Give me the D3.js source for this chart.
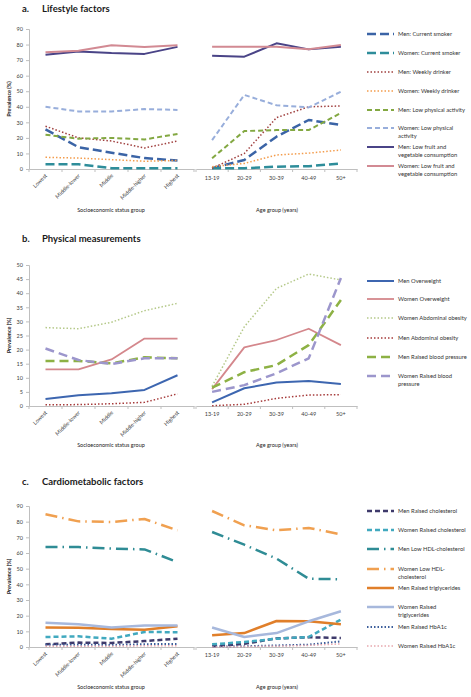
<!DOCTYPE html>
<html><head><meta charset="utf-8">
<script src="https://cdn.jsdelivr.net/npm/d3@7"></script>
<style>
body{margin:0;background:#fff;}
svg{display:block;font-family:Lato,"Liberation Sans",sans-serif;}
</style></head>
<body><svg id="chart" width="471" height="697"></svg>
<script>
// ---- categories / ticks ----
const sesGroups = ["Lowest","Middle-lower","Middle","Middle-higher","Highest"];
const ageGroups = ["13-19","20-29","30-39","40-49","50+"];
const ticksA = [0,10,20,30,40,50,60,70,80,90];
const ticksB = [0,5,10,15,20,25,30,35,40,45,50];
const ticksC = [0,10,20,30,40,50,60,70,80,90];

// ---- a. Lifestyle factors ----
const menCurrentSmokerSES = [25.5,14,10.5,7,5.5];
const menCurrentSmokerAge = [0.5,5.8,20.8,31.5,28.3];
const womenCurrentSmokerSES = [3,3,0.5,0.5,0.5];
const womenCurrentSmokerAge = [0.5,0.5,1.5,1.8,3.6];
const menWeeklyDrinkerSES = [27.5,20,18,13.5,18];
const menWeeklyDrinkerAge = [0.5,10,33,40,40.5];
const womenWeeklyDrinkerSES = [7.5,7,6,5,5.5];
const womenWeeklyDrinkerAge = [1.5,3.6,9,10.2,12.2];
const menLowPhysicalSES = [22,19.5,20,19,22.5];
const menLowPhysicalAge = [6.9,24.4,25,25,36];
const womenLowPhysicalSES = [40,37,37,38.5,38];
const womenLowPhysicalAge = [18.6,47.6,41,39.6,49.7];
const menLowFruitVegSES = [73.5,75.5,74.5,74,78.5];
const menLowFruitVegAge = [72.8,72.2,80.8,76.9,78.6];
const womenLowFruitVegSES = [75,76,79.5,78.5,79.5];
const womenLowFruitVegAge = [78.6,78.6,78.6,77,79.7];

// ---- b. Physical measurements ----
const menOverweightSES = [2.5,3.8,4.5,5.7,10.9];
const menOverweightAge = [1.3,6.3,8.3,8.9,7.8];
const womenOverweightSES = [13,13,16.5,23.9,23.9];
const womenOverweightAge = [6,20.8,23.4,27.4,21.6];
const womenAbdominalSES = [27.8,27.4,29.7,33.8,36.4];
const womenAbdominalAge = [7,28.1,41.7,46.8,44.7];
const menAbdominalSES = [0.4,0.5,0.8,1.3,4.3];
const menAbdominalAge = [0.1,0.6,2.7,3.9,4];
const menRaisedBPSES = [16,16,15.1,17.3,16.9];
const menRaisedBPAge = [6.5,12,14.5,21.6,37.6];
const womenRaisedBPSES = [20.4,16.3,14.9,16.9,16.9];
const womenRaisedBPAge = [5,7.4,11.6,16.9,45.4];

// ---- c. Cardiometabolic factors ----
const menRaisedCholSES = [1.7,2.8,2.6,3.8,5.3];
const menRaisedCholAge = [0.5,2,5.5,6.2,5.8];
const womenRaisedCholSES = [6.4,6.8,5.3,9.6,9.4];
const womenRaisedCholAge = [1.7,3.2,5.3,6.4,17.5];
const menLowHDLSES = [63.8,63.8,62.8,62.3,54.2];
const menLowHDLAge = [73.4,65.3,56.4,43.6,43.2];
const womenLowHDLSES = [84.7,80.2,79.8,81.7,74.5];
const womenLowHDLAge = [86.8,77.7,74.5,76,71.9];
const menRaisedTGSES = [12.5,12.3,11.5,11,13.2];
const menRaisedTGAge = [7.5,8.9,16.6,16.4,14.5];
const womenRaisedTGSES = [15.5,14.5,12.5,13.8,13.8];
const womenRaisedTGAge = [12.4,6.4,8.9,16.4,22.8];
const menHbA1cSES = [1.5,1.5,1.3,1.8,2];
const menHbA1cAge = [0.2,0.5,1,1.5,3.6];
const womenHbA1cSES = [0.5,0.5,0.5,0.8,0.8];
const womenHbA1cAge = [0,0.3,0.5,1,2];

// ---- styles ----
const LONG="9,4", MED="5,3", DOT="1.5,2", LDASH="9,5", DASHDOT="12,5,1.5,5";
const panels = [
 {letter:"a.", title:"Lifestyle factors", titleY:12, top:29, bottom:169, ticks:ticksA, axisTitleY:212, ageLabelY:180,
  legendY:[34,53,72,91,110,128,147,166],
  series:[
   {label:["Men: Current smoker"], ses:menCurrentSmokerSES, age:menCurrentSmokerAge, color:"#3B64A6", w:2.5, dash:LONG},
   {label:["Women: Current smoker"], ses:womenCurrentSmokerSES, age:womenCurrentSmokerAge, color:"#2E8D9A", w:2.5, dash:LONG},
   {label:["Men: Weekly drinker"], ses:menWeeklyDrinkerSES, age:menWeeklyDrinkerAge, color:"#A0403F", w:1.5, dash:DOT},
   {label:["Women: Weekly drinker"], ses:womenWeeklyDrinkerSES, age:womenWeeklyDrinkerAge, color:"#F39C4C", w:1.5, dash:DOT},
   {label:["Men: Low physical activity"], ses:menLowPhysicalSES, age:menLowPhysicalAge, color:"#83A842", w:2, dash:MED},
   {label:["Women: Low physical","activity"], ses:womenLowPhysicalSES, age:womenLowPhysicalAge, color:"#98AEDB", w:2, dash:MED},
   {label:["Men: Low fruit and","vegetable consumption"], ses:menLowFruitVegSES, age:menLowFruitVegAge, color:"#4A4487", w:2, dash:null},
   {label:["Women: Low fruit and","vegetable consumption"], ses:womenLowFruitVegSES, age:womenLowFruitVegAge, color:"#D28A93", w:2, dash:null}
  ]},
 {letter:"b.", title:"Physical measurements", titleY:242, top:265, bottom:406, ticks:ticksB, axisTitleY:447, ageLabelY:416,
  legendY:[281,299,318,338,357,376],
  series:[
   {label:["Men Overweight"], ses:menOverweightSES, age:menOverweightAge, color:"#3D66B0", w:2, dash:null},
   {label:["Women Overweight"], ses:womenOverweightSES, age:womenOverweightAge, color:"#D4878C", w:1.8, dash:null},
   {label:["Women Abdominal obesity"], ses:womenAbdominalSES, age:womenAbdominalAge, color:"#B5C98A", w:1.5, dash:DOT},
   {label:["Men Abdominal obesity"], ses:menAbdominalSES, age:menAbdominalAge, color:"#A63B3B", w:1.5, dash:DOT},
   {label:["Men Raised blood pressure"], ses:menRaisedBPSES, age:menRaisedBPAge, color:"#8DB144", w:2.5, dash:LDASH},
   {label:["Women Raised blood","pressure"], ses:womenRaisedBPSES, age:womenRaisedBPAge, color:"#9C96CC", w:2.5, dash:LDASH}
  ]},
 {letter:"c.", title:"Cardiometabolic factors", titleY:485, top:506, bottom:647, ticks:ticksC, axisTitleY:689, ageLabelY:657,
  legendY:[511,530,549,569,588,607,627,646],
  series:[
   {label:["Men Raised cholesterol"], ses:menRaisedCholSES, age:menRaisedCholAge, color:"#3E3A6B", w:2.5, dash:MED},
   {label:["Women Raised cholesterol"], ses:womenRaisedCholSES, age:womenRaisedCholAge, color:"#41A9BF", w:2.5, dash:MED},
   {label:["Men Low HDL-cholesterol"], ses:menLowHDLSES, age:menLowHDLAge, color:"#2F8C95", w:2.5, dash:DASHDOT},
   {label:["Women Low HDL-","cholesterol"], ses:womenLowHDLSES, age:womenLowHDLAge, color:"#F0A050", w:2.5, dash:DASHDOT},
   {label:["Men Raised triglycerides"], ses:menRaisedTGSES, age:menRaisedTGAge, color:"#E07F2A", w:2.5, dash:null},
   {label:["Women Raised","triglycerides"], ses:womenRaisedTGSES, age:womenRaisedTGAge, color:"#A7B8DC", w:2.5, dash:null},
   {label:["Men Raised HbA1c"], ses:menHbA1cSES, age:menHbA1cAge, color:"#3C5E9B", w:2, dash:DOT},
   {label:["Women Raised HbA1c"], ses:womenHbA1cSES, age:womenHbA1cAge, color:"#E7A8AE", w:1.5, dash:DOT}
  ]}
];

const svg = d3.select("#chart");
const AX = "#BFBFBF", TXT = "#404040";
const xL = d3.scaleBand().domain(sesGroups).range([29,194]);
const xR = d3.scaleBand().domain(ageGroups).range([196,357]);

panels.forEach(p => {
  const g = svg.append("g");
  const y = d3.scaleLinear().domain([0, d3.max(p.ticks)]).range([p.bottom, p.top]);

  // title
  g.append("text").attr("x",22).attr("y",p.titleY).attr("font-weight","bold").attr("font-size",9.5).attr("fill","#1a1a1a").text(p.letter);
  g.append("text").attr("x",42).attr("y",p.titleY).attr("font-weight","bold").attr("font-size",9.5).attr("fill","#1a1a1a").text(p.title);

  // y axis
  const ya = g.append("g").attr("transform","translate(29,0)")
    .call(d3.axisLeft(y).tickValues(p.ticks).tickSize(3).tickPadding(3));
  ya.select(".domain").attr("stroke",AX);
  ya.selectAll(".tick line").attr("stroke",AX);
  ya.selectAll("text").attr("font-size",5.5).attr("fill",TXT).attr("font-family","Lato,'Liberation Sans',sans-serif");

  g.append("text").attr("transform",`translate(11,${(p.top+p.bottom)/2}) rotate(-90)`)
    .attr("text-anchor","middle").attr("font-size",5.5).attr("font-weight","bold").attr("fill","#222").text("Prevalence (%)");

  // x axes
  const xa = g.append("g").attr("transform",`translate(0,${p.bottom})`)
    .call(d3.axisBottom(xL).tickSize(0).tickFormat(""));
  xa.select(".domain").attr("stroke",AX);
  const xb = g.append("g").attr("transform",`translate(0,${p.bottom})`)
    .call(d3.axisBottom(xR).tickSize(0).tickFormat(""));
  xb.select(".domain").attr("stroke",AX);
  // boundary ticks
  const bL = sesGroups.map(d=>xL(d)).concat([xL.range()[1]]);
  const bR = ageGroups.map(d=>xR(d)).concat([xR.range()[1]]);
  g.selectAll(null).data(bL.concat(bR)).enter().append("line")
    .attr("x1",d=>d).attr("x2",d=>d).attr("y1",p.bottom).attr("y2",p.bottom+3).attr("stroke",AX);

  // x labels
  sesGroups.forEach(c => {
    const cx = xL(c)+xL.bandwidth()/2+2;
    g.append("text").attr("transform",`translate(${cx},${p.bottom+7}) rotate(-45)`)
      .attr("text-anchor","end").attr("font-size",5.5).attr("fill",TXT).text(c);
  });
  ageGroups.forEach(c => {
    g.append("text").attr("x",xR(c)+xR.bandwidth()/2).attr("y",p.ageLabelY)
      .attr("text-anchor","middle").attr("font-size",5.5).attr("fill",TXT).text(c);
  });
  g.append("text").attr("x",111).attr("y",p.axisTitleY).attr("text-anchor","middle").attr("font-size",5.5).attr("fill","#222").text("Socioeconomic status group");
  g.append("text").attr("x",277).attr("y",p.axisTitleY).attr("text-anchor","middle").attr("font-size",5.5).attr("fill","#222").text("Age group (years)");

  // lines
  const lineL = d3.line().x((d,i)=>xL(sesGroups[i])+xL.bandwidth()/2).y(d=>y(d));
  const lineR = d3.line().x((d,i)=>xR(ageGroups[i])+xR.bandwidth()/2).y(d=>y(d));
  p.series.forEach(s => {
    [[lineL,s.ses],[lineR,s.age]].forEach(([fn,vals]) => {
      g.append("path").attr("d",fn(vals)).attr("fill","none").attr("stroke",s.color)
        .attr("stroke-width",s.w).attr("stroke-dasharray",s.dash).attr("stroke-linejoin","round");
    });
  });

  // legend
  p.series.forEach((s,i) => {
    const ly = p.legendY[i];
    g.append("line").attr("x1",367).attr("x2",394).attr("y1",ly).attr("y2",ly)
      .attr("stroke",s.color).attr("stroke-width",s.w).attr("stroke-dasharray",s.dash);
    s.label.forEach((t,k) => {
      g.append("text").attr("x",398).attr("y",ly+2+k*8).attr("font-size",5.8).attr("fill","#333").text(t);
    });
  });
});
</script></body></html>
